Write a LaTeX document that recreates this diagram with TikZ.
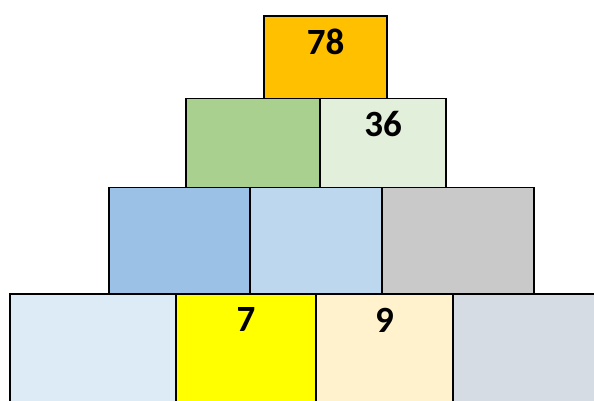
\documentclass[tikz,border=0pt]{standalone}
\usepackage{fontspec}
\setmainfont{Carlito}
\usepackage{xcolor}
\definecolor{topOrange}{HTML}{FFC000}
\definecolor{midGreen}{HTML}{A9D08E}
\definecolor{paleGreen}{HTML}{E2EFDA}
\definecolor{midBlue}{HTML}{9BC2E6}
\definecolor{lightBlue}{HTML}{BDD7EE}
\definecolor{midGray}{HTML}{C9C9C9}
\definecolor{paleBlue}{HTML}{DDEBF7}
\definecolor{brightYellow}{HTML}{FFFF00}
\definecolor{paleTan}{HTML}{FFF2CC}
\definecolor{blueGray}{HTML}{D6DCE4}

\begin{document}
\begin{tikzpicture}[x=1pt,y=-1pt,line width=1.8pt,
  num/.style={font=\bfseries\fontsize{37}{40}\selectfont,inner sep=0pt}]
  \useasboundingbox (0,0) rectangle (594,401);
  \clip (0,0) rectangle (594,401);

  % riga 1 (top)
  \filldraw[fill=topOrange] (264,16) rectangle (387,98.5);

  % riga 2
  \filldraw[fill=midGreen] (186,98.5) rectangle (320,187.5);
  \filldraw[fill=paleGreen] (320,98.5) rectangle (446,187.5);

  % riga 3
  \filldraw[fill=midBlue] (109,187.5) rectangle (250,294);
  \filldraw[fill=lightBlue] (250,187.5) rectangle (382,294);
  \filldraw[fill=midGray] (382,187.5) rectangle (534,294);

  % riga 4 (bottom, cut by the page)
  \filldraw[fill=paleBlue] (10,294) rectangle (176,420);
  \filldraw[fill=brightYellow] (176,294) rectangle (316,420);
  \filldraw[fill=paleTan] (316,294) rectangle (453,420);
  \filldraw[fill=blueGray] (453,294) rectangle (620,420);

  % numeri
  \node[num] (n78) at (325.5,42) {78};
  \node[num] (n36) at (383,124) {36};
  \node[num] (n7) at (246,320) {7};
  \node[num] (n9) at (384.5,320) {9};
\end{tikzpicture}
\end{document}
